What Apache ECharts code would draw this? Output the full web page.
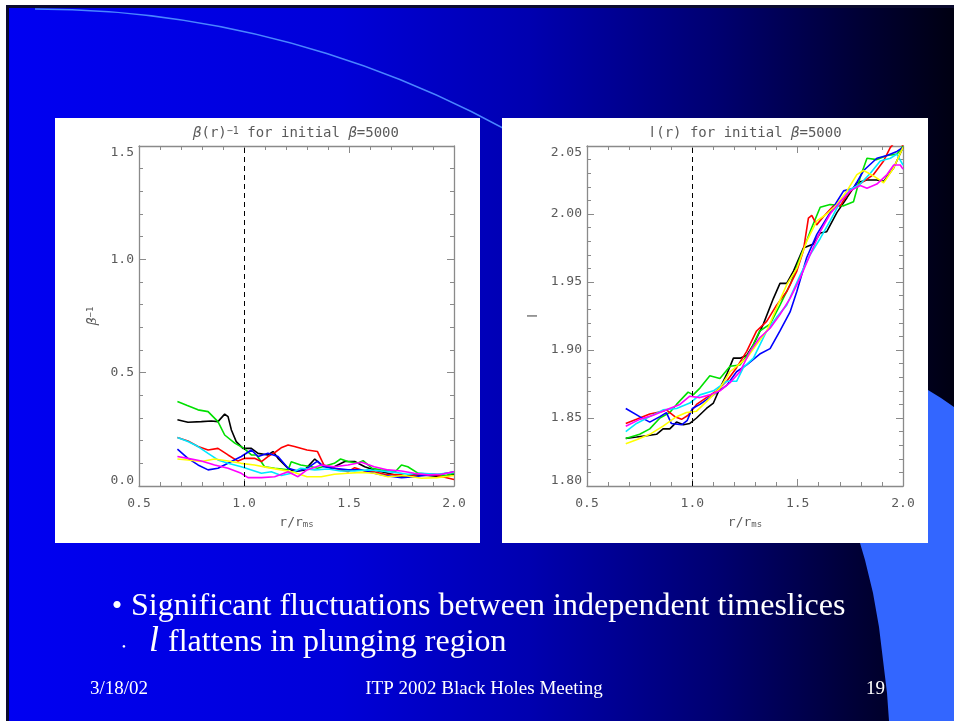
<!DOCTYPE html>
<html>
<head>
<meta charset="utf-8">
<script src="https://cdn.jsdelivr.net/npm/echarts@6/dist/echarts.min.js"></script>
<style>
  html, body { margin: 0; padding: 0; background: #fff; overflow: hidden; }
  #c { width: 954px; height: 721px; }
</style>
</head>
<body>
<div id="c"></div>
<script>
// ---- axis ticks ----
const radiusTicks = [0.5, 1.0, 1.5, 2.0];          // r / r_ms
const betaTicks = [0.0, 0.5, 1.0, 1.5];            // beta^-1
const ellTicks = [1.80, 1.85, 1.90, 1.95, 2.00, 2.05]; // specific angular momentum l
const rMarginallyStable = 1.0;                      // dashed marker at r = r_ms

// ---- beta^-1 profiles, one per timeslice: [r/r_ms, beta^-1] ----
const betaBlack = [[0.683,0.292],[0.733,0.281],[0.797,0.284],[0.844,0.287],[0.876,0.284],[0.908,0.317],[0.924,0.306],[0.94,0.247],[0.963,0.196],[0.995,0.166],[1.035,0.166],[1.067,0.144],[1.114,0.137],[1.138,0.152],[1.162,0.122],[1.21,0.078],[1.24,0.063],[1.29,0.071],[1.337,0.119],[1.368,0.093],[1.416,0.078],[1.48,0.108],[1.527,0.108],[1.575,0.085],[1.62,0.071],[1.686,0.056],[1.75,0.041],[1.81,0.049],[1.876,0.046],[1.94,0.041],[2.0,0.052]];
const betaGreen = [[0.683,0.373],[0.73,0.355],[0.781,0.336],[0.829,0.328],[0.876,0.284],[0.908,0.225],[0.956,0.189],[1.0,0.166],[1.035,0.137],[1.06,0.137],[1.098,0.085],[1.146,0.078],[1.21,0.071],[1.225,0.107],[1.27,0.093],[1.32,0.085],[1.35,0.078],[1.43,0.1],[1.46,0.119],[1.495,0.108],[1.54,0.1],[1.567,0.112],[1.61,0.078],[1.65,0.071],[1.72,0.063],[1.75,0.093],[1.78,0.085],[1.83,0.056],[1.89,0.052],[1.96,0.046],[2.0,0.056]];
const betaRed = [[0.683,0.214],[0.733,0.199],[0.781,0.174],[0.829,0.159],[0.876,0.166],[0.924,0.137],[0.971,0.11],[1.003,0.122],[1.05,0.122],[1.083,0.108],[1.114,0.13],[1.15,0.15],[1.18,0.17],[1.21,0.181],[1.24,0.174],[1.30,0.159],[1.35,0.152],[1.38,0.093],[1.43,0.078],[1.495,0.063],[1.527,0.081],[1.575,0.066],[1.62,0.063],[1.67,0.052],[1.75,0.049],[1.78,0.041],[1.845,0.052],[1.92,0.046],[2.0,0.029]];
const betaBlue = [[0.683,0.163],[0.733,0.122],[0.781,0.093],[0.829,0.071],[0.876,0.078],[0.94,0.108],[0.987,0.13],[1.035,0.159],[1.067,0.13],[1.114,0.144],[1.162,0.13],[1.21,0.078],[1.257,0.066],[1.30,0.078],[1.35,0.11],[1.38,0.085],[1.43,0.078],[1.495,0.071],[1.56,0.071],[1.62,0.056],[1.67,0.046],[1.75,0.037],[1.81,0.041],[1.876,0.049],[1.94,0.052],[2.0,0.063]];
const betaCyan = [[0.683,0.214],[0.733,0.196],[0.781,0.174],[0.829,0.144],[0.876,0.115],[0.924,0.1],[0.987,0.085],[1.035,0.071],[1.083,0.056],[1.13,0.063],[1.178,0.046],[1.225,0.056],[1.27,0.078],[1.337,0.071],[1.40,0.075],[1.46,0.066],[1.527,0.066],[1.59,0.071],[1.65,0.066],[1.72,0.06],[1.78,0.052],[1.845,0.056],[1.92,0.052],[2.0,0.06]];
const betaYellow = [[0.683,0.119],[0.733,0.115],[0.797,0.108],[0.86,0.119],[0.924,0.11],[0.987,0.1],[1.05,0.093],[1.114,0.081],[1.178,0.071],[1.24,0.06],[1.30,0.041],[1.368,0.041],[1.43,0.052],[1.495,0.056],[1.56,0.06],[1.62,0.056],[1.686,0.041],[1.765,0.046],[1.845,0.034],[1.92,0.037],[2.0,0.046]];
const betaMagenta = [[0.683,0.13],[0.733,0.122],[0.797,0.11],[0.86,0.093],[0.924,0.078],[0.987,0.056],[1.019,0.037],[1.083,0.037],[1.146,0.041],[1.21,0.063],[1.257,0.041],[1.30,0.071],[1.368,0.093],[1.43,0.085],[1.495,0.093],[1.56,0.105],[1.62,0.085],[1.686,0.071],[1.75,0.066],[1.81,0.056],[1.876,0.049],[1.94,0.052],[2.0,0.063]];

// ---- l(r) profiles, one per timeslice: [r/r_ms, l] ----
const ellBlack = [[0.684,1.835],[0.735,1.836],[0.782,1.837],[0.83,1.838],[0.861,1.842],[0.893,1.842],[0.925,1.847],[0.957,1.845],[0.988,1.846],[1.02,1.85],[1.067,1.857],[1.1,1.861],[1.131,1.872],[1.163,1.882],[1.195,1.894],[1.226,1.894],[1.258,1.896],[1.29,1.904],[1.337,1.919],[1.385,1.938],[1.416,1.949],[1.448,1.949],[1.48,1.958],[1.527,1.975],[1.575,1.978],[1.607,1.986],[1.638,1.987],[1.686,2.001],[1.734,2.012],[1.781,2.023],[1.829,2.025],[1.876,2.025],[1.908,2.024],[1.956,2.034],[2.0,2.049]];
const ellGreen = [[0.684,1.835],[0.75,1.838],[0.798,1.842],[0.846,1.85],[0.893,1.854],[0.925,1.86],[0.98,1.869],[1.004,1.867],[1.036,1.872],[1.083,1.881],[1.131,1.879],[1.179,1.888],[1.226,1.889],[1.274,1.899],[1.32,1.914],[1.369,1.919],[1.416,1.933],[1.464,1.948],[1.512,1.968],[1.559,1.987],[1.607,2.005],[1.654,2.007],[1.718,2.006],[1.765,2.009],[1.797,2.027],[1.829,2.041],[1.876,2.04],[1.924,2.043],[1.971,2.044],[2.0,2.05]];
const ellRed = [[0.684,1.846],[0.735,1.849],[0.798,1.853],[0.861,1.855],[0.877,1.856],[0.917,1.851],[0.949,1.849],[0.98,1.852],[1.02,1.86],[1.067,1.865],[1.115,1.87],[1.163,1.877],[1.21,1.887],[1.258,1.899],[1.305,1.914],[1.353,1.921],[1.4,1.933],[1.448,1.943],[1.496,1.958],[1.527,1.973],[1.551,1.997],[1.567,1.999],[1.59,1.992],[1.622,1.998],[1.67,2.006],[1.702,2.006],[1.734,2.014],[1.765,2.019],[1.813,2.024],[1.86,2.029],[1.908,2.039],[1.94,2.049],[1.963,2.053],[1.985,2.053],[2.0,2.05]];
const ellBlue = [[0.684,1.857],[0.75,1.851],[0.798,1.847],[0.846,1.851],[0.877,1.854],[0.9,1.846],[0.949,1.845],[0.975,1.848],[1.0,1.857],[1.036,1.86],[1.1,1.867],[1.163,1.874],[1.21,1.884],[1.258,1.889],[1.32,1.897],[1.369,1.901],[1.416,1.914],[1.464,1.928],[1.496,1.943],[1.543,1.968],[1.591,1.985],[1.638,1.997],[1.686,2.009],[1.718,2.017],[1.765,2.019],[1.813,2.032],[1.876,2.041],[1.924,2.043],[1.971,2.046],[2.0,2.049]];
const ellCyan = [[0.684,1.84],[0.735,1.846],[0.798,1.851],[0.861,1.856],[0.925,1.857],[0.988,1.861],[1.036,1.867],[1.1,1.87],[1.163,1.877],[1.21,1.877],[1.242,1.887],[1.29,1.894],[1.353,1.914],[1.4,1.924],[1.448,1.933],[1.512,1.955],[1.559,1.97],[1.607,1.982],[1.654,1.995],[1.702,2.009],[1.749,2.018],[1.797,2.022],[1.845,2.03],[1.892,2.039],[1.94,2.041],[1.971,2.044],[2.0,2.036]];
const ellYellow = [[0.684,1.831],[0.735,1.834],[0.798,1.838],[0.861,1.844],[0.925,1.851],[0.972,1.854],[1.02,1.855],[1.067,1.862],[1.131,1.872],[1.179,1.884],[1.21,1.888],[1.258,1.894],[1.305,1.904],[1.353,1.914],[1.4,1.931],[1.448,1.948],[1.496,1.96],[1.543,1.98],[1.591,1.995],[1.638,2.0],[1.686,2.007],[1.734,2.017],[1.781,2.029],[1.813,2.032],[1.86,2.028],[1.908,2.023],[1.956,2.034],[2.0,2.049]];
const ellMagenta = [[0.684,1.844],[0.75,1.849],[0.814,1.852],[0.877,1.856],[0.941,1.86],[0.988,1.866],[1.036,1.865],[1.083,1.867],[1.131,1.87],[1.179,1.876],[1.226,1.884],[1.274,1.899],[1.32,1.909],[1.369,1.916],[1.416,1.926],[1.464,1.938],[1.512,1.953],[1.559,1.97],[1.607,1.987],[1.654,2.0],[1.702,2.009],[1.749,2.017],[1.797,2.021],[1.829,2.019],[1.876,2.022],[1.924,2.029],[1.956,2.036],[1.987,2.036],[2.0,2.033]];

// ---- styling ----
const AXIS = '#8a8a8a';
const INK = '#5a5a5a';
const MONO = '"DejaVu Sans Mono", monospace';
const SANS = '"DejaVu Sans", sans-serif';
const SERIF = '"Liberation Serif", "Times New Roman", serif';
const palette = { black: '#000000', green: '#00e000', red: '#ff0000', blue: '#0000ff', cyan: '#00e8ff', yellow: '#ffff00', magenta: '#ff00ff' };

const chart = echarts.init(document.getElementById('c'), null, { renderer: 'canvas' });

function tickRange(ticks) {
  return { min: ticks[0], max: ticks[ticks.length - 1], interval: +(ticks[1] - ticks[0]).toFixed(4) };
}

function labelFormatter(ticks, digits) {
  const lo = ticks[0], hi = ticks[ticks.length - 1];
  return function (v) {
    const t = v.toFixed(digits);
    if (Math.abs(v - hi) < 1e-6) return '{hi|' + t + '}';
    if (Math.abs(v - lo) < 1e-6) return '{lo|' + t + '}';
    return '{n|' + t + '}';
  };
}

const labelFont = { fontFamily: MONO, fontSize: 13, color: INK };

function xAxisOf(grid, position, withLabels) {
  return Object.assign({
    type: 'value', gridIndex: grid, position: position,
    axisLine: { show: true, onZero: false, lineStyle: { color: AXIS, width: 1.3 } },
    axisTick: { show: true, inside: true, length: 7, lineStyle: { color: AXIS } },
    minorTick: { show: true, splitNumber: 5, length: 4, lineStyle: { color: AXIS } },
    splitLine: { show: false },
    axisLabel: withLabels ? Object.assign({ show: true, margin: 11, formatter: (v) => v.toFixed(1) }, labelFont) : { show: false },
    name: withLabels ? 'r/r{s|ms}' : '',
    nameLocation: 'middle', nameGap: 30,
    nameTextStyle: {
      fontFamily: MONO, fontSize: 13, color: INK,
      rich: {
        s: { fontFamily: MONO, fontSize: 9, color: INK, lineHeight: 9, verticalAlign: 'bottom', padding: [8, 0, 0, 0] }
      }
    }
  }, tickRange(radiusTicks));
}

function yAxisOf(grid, position, ticks, digits, name, nameGap) {
  const withLabels = position === 'left';
  return Object.assign({
    type: 'value', gridIndex: grid, position: position,
    axisLine: { show: true, onZero: false, lineStyle: { color: AXIS, width: 1.3 } },
    axisTick: { show: true, inside: true, length: 7, lineStyle: { color: AXIS } },
    minorTick: { show: true, splitNumber: 5, length: 4, lineStyle: { color: AXIS } },
    splitLine: { show: false },
    axisLabel: withLabels ? {
      show: true, margin: 5, formatter: labelFormatter(ticks, digits),
      rich: {
        n: Object.assign({}, labelFont),
        hi: Object.assign({ padding: [13, 0, 0, 0] }, labelFont),
        lo: Object.assign({ padding: [0, 0, 10, 0] }, labelFont)
      }
    } : { show: false },
    name: withLabels ? name : '',
    nameLocation: 'middle', nameRotate: 90, nameGap: nameGap,
    nameTextStyle: {
      fontFamily: MONO, fontSize: 13, color: INK,
      rich: {
        g: { fontFamily: MONO, fontSize: 13, fontStyle: 'italic', color: INK, lineHeight: 13, verticalAlign: 'bottom', padding: [5, 0, 0, 0] },
        p: { fontFamily: MONO, fontSize: 9, color: INK, lineHeight: 9, verticalAlign: 'top' },
        l: { fontFamily: SANS, fontSize: 13, color: INK }
      }
    }
  }, tickRange(ticks));
}

function profile(name, data, color, axisIndex, withMarker) {
  const s = {
    type: 'line', name: name, data: data,
    xAxisIndex: axisIndex, yAxisIndex: axisIndex,
    symbol: 'none', showSymbol: false, clip: true,
    lineStyle: { color: color, width: 1.6 },
    itemStyle: { color: color },
    z: 3
  };
  if (withMarker) {
    s.markLine = {
      silent: true, symbol: 'none', animation: false,
      label: { show: false },
      lineStyle: { color: '#000', width: 1, type: [5, 4] },
      data: [{ xAxis: rMarginallyStable }]
    };
  }
  return s;
}

const titleRich = {
  a: { fontFamily: MONO, fontSize: 14, color: INK, lineHeight: 14, verticalAlign: 'bottom', padding: [5, 0, 0, 0] },
  l: { fontFamily: SANS, fontSize: 14, color: INK, lineHeight: 14, verticalAlign: 'bottom', padding: [5, 2, 0, 2] },
  g: { fontFamily: MONO, fontSize: 14, fontStyle: 'italic', color: INK, lineHeight: 14, verticalAlign: 'bottom', padding: [5, 0, 0, 0] },
  p: { fontFamily: MONO, fontSize: 10, color: INK, lineHeight: 10, verticalAlign: 'top' }
};

function txt(x, y, text, font, align, extra) {
  return Object.assign({
    type: 'text', x: x, y: y, z: 50,
    style: {
      text: text, font: font, fill: '#ffffff',
      align: align, verticalAlign: 'middle',
      textAlign: align, textVerticalAlign: 'middle'
    }
  }, extra || {});
}

const option = {
  animation: false,
  backgroundColor: '#ffffff',
  grid: [
    { left: 139, top: 146, width: 315, height: 340, containLabel: false },
    { left: 587, top: 146, width: 316, height: 340, containLabel: false }
  ],
  xAxis: [
    xAxisOf(0, 'bottom', true), xAxisOf(0, 'top', false),
    xAxisOf(1, 'bottom', true), xAxisOf(1, 'top', false)
  ],
  yAxis: [
    yAxisOf(0, 'left', betaTicks, 1, '{g|β}{p|−1}', 40), yAxisOf(0, 'right', betaTicks, 1, '', 0),
    yAxisOf(1, 'left', ellTicks, 2, '{l|l}', 47), yAxisOf(1, 'right', ellTicks, 2, '', 0)
  ],
  series: [
    profile('black', betaBlack, palette.black, 0, true),
    profile('green', betaGreen, palette.green, 0),
    profile('red', betaRed, palette.red, 0),
    profile('blue', betaBlue, palette.blue, 0),
    profile('cyan', betaCyan, palette.cyan, 0),
    profile('yellow', betaYellow, palette.yellow, 0),
    profile('magenta', betaMagenta, palette.magenta, 0),
    profile('black', ellBlack, palette.black, 2, true),
    profile('green', ellGreen, palette.green, 2),
    profile('red', ellRed, palette.red, 2),
    profile('blue', ellBlue, palette.blue, 2),
    profile('cyan', ellCyan, palette.cyan, 2),
    profile('yellow', ellYellow, palette.yellow, 2),
    profile('magenta', ellMagenta, palette.magenta, 2)
  ],
  graphic: [
    // slide frame and backdrop
    { type: 'rect', z: -40, shape: { x: 6, y: 5, width: 948, height: 716 }, style: { fill: '#0b0b2e' } },
    { type: 'rect', z: -39, shape: { x: 9, y: 8, width: 945, height: 713 },
      style: { fill: new echarts.graphic.LinearGradient(0, 0, 1, 0, [
        { offset: 0, color: '#0000f2' },
        { offset: 0.35, color: '#0000d8' },
        { offset: 0.55, color: '#0000b0' },
        { offset: 0.75, color: '#000070' },
        { offset: 0.9, color: '#000035' },
        { offset: 1, color: '#000012' }
      ]) } },
    { type: 'arc', z: -38, shape: { cx: 35, cy: 988, r: 979, startAngle: -Math.PI / 2, endAngle: -0.33, clockwise: true },
      style: { stroke: '#4a86ff', lineWidth: 1.5, fill: 'none' } },
    { type: 'polygon', z: -37,
      shape: { points: [[954, 407], [941, 398], [928, 390], [905, 415], [882, 455], [866, 500], [860, 543], [865, 560], [873, 593], [879, 627], [883, 660], [887, 693], [889, 721], [954, 721]] },
      style: { fill: '#3366ff' } },
    // white plot panels
    { type: 'rect', z: -30, shape: { x: 55, y: 118, width: 425, height: 425 }, style: { fill: '#ffffff' } },
    { type: 'rect', z: -30, shape: { x: 502, y: 118, width: 426, height: 425 }, style: { fill: '#ffffff' } },
    // panel titles
    { type: 'text', x: 296, y: 133, z: 50,
      style: { text: '{g|β}{a|(r)}{p|−1}{a| for initial }{g|β}{a|=5000}', rich: titleRich, fill: INK,
        align: 'center', verticalAlign: 'middle', textAlign: 'center', textVerticalAlign: 'middle' } },
    { type: 'text', x: 745, y: 133, z: 50,
      style: { text: '{l|l}{a|(r) for initial }{g|β}{a|=5000}', rich: titleRich, fill: INK,
        align: 'center', verticalAlign: 'middle', textAlign: 'center', textVerticalAlign: 'middle' } },
    // bullet points
    txt(117, 607, '•', '30px ' + SERIF, 'center'),
    txt(131, 607, 'Significant fluctuations between independent timeslices', '32px ' + SERIF, 'left'),
    txt(124, 647, '•', '11px ' + SERIF, 'center'),
    txt(149, 642, 'l', 'italic 36px ' + SERIF, 'left'),
    txt(168, 643, 'flattens in plunging region', '32px ' + SERIF, 'left'),
    // footer
    txt(90, 689, '3/18/02', '19px ' + SERIF, 'left'),
    txt(484, 689, 'ITP 2002 Black Holes Meeting', '19px ' + SERIF, 'center'),
    txt(885, 689, '19', '19px ' + SERIF, 'right')
  ]
};

chart.setOption(option);
</script>
</body>
</html>
